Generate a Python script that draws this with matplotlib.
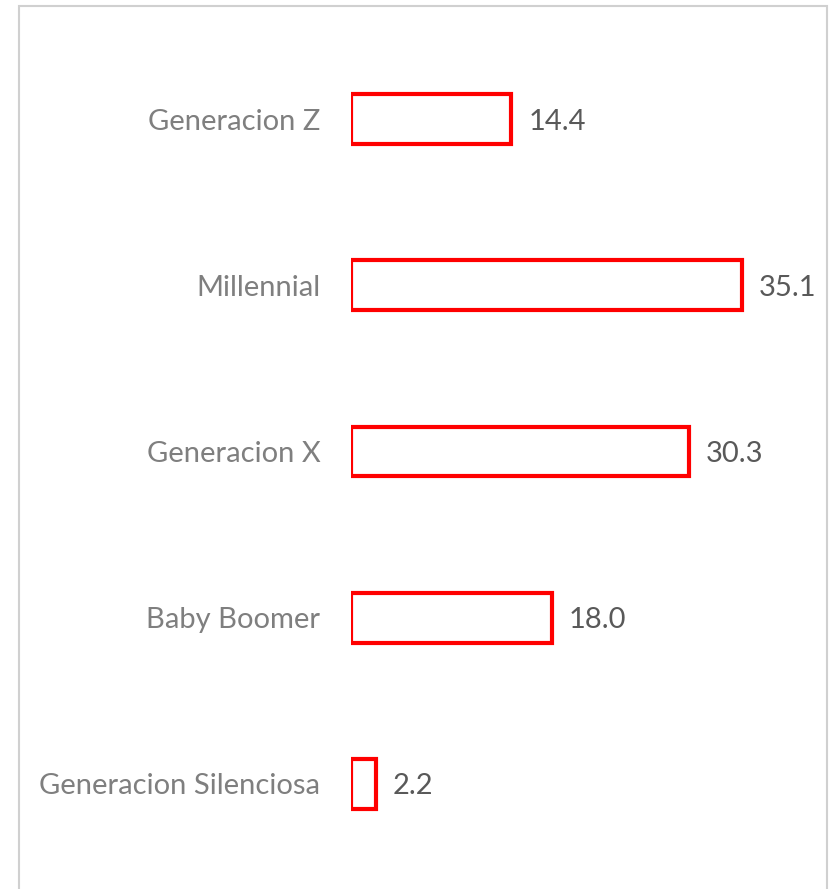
import matplotlib.pyplot as plt
from matplotlib.patches import Rectangle

# generational shares (%)
categories = ["Generacion Z", "Millennial", "Generacion X", "Baby Boomer", "Generacion Silenciosa"]
values = [14.4, 35.1, 30.3, 18.0, 2.2]

W, H = 831, 889
fig = plt.figure(figsize=(W / 100, H / 100), dpi=100)
plt.rcParams['font.family'] = ['Lato', 'DejaVu Sans']

# outer frame (open at the bottom)
fig.add_artist(Rectangle((19 / W, -0.05), (827 - 19) / W, 1.05 - 6 / H,
                         transform=fig.transFigure, fill=False,
                         edgecolor="#d0d0d0", linewidth=1.5))

ax = fig.add_axes([351 / W, 1 - 867 / H, (819 - 351) / W, (867 - 36) / H])
pos = list(range(len(categories)))
ax.barh(pos, values, height=0.3, color="white", edgecolor="#ff0000", linewidth=3)
ax.set_xlim(0, 42)
ax.set_ylim(len(categories) - 0.5, -0.5)

for p, v in zip(pos, values):
    ax.text(v + 1.5, p, f"{v:.1f}", va="center_baseline", ha="left", fontsize=21, color="#595959")

ax.set_yticks(pos)
ax.set_yticklabels(categories, fontsize=21, color="#7f7f7f")
ax.tick_params(axis="y", length=0, pad=22)
ax.set_xticks([])
for s in ax.spines.values():
    s.set_visible(False)
ax.patch.set_alpha(0)

fig.savefig("out.png", dpi=100)
